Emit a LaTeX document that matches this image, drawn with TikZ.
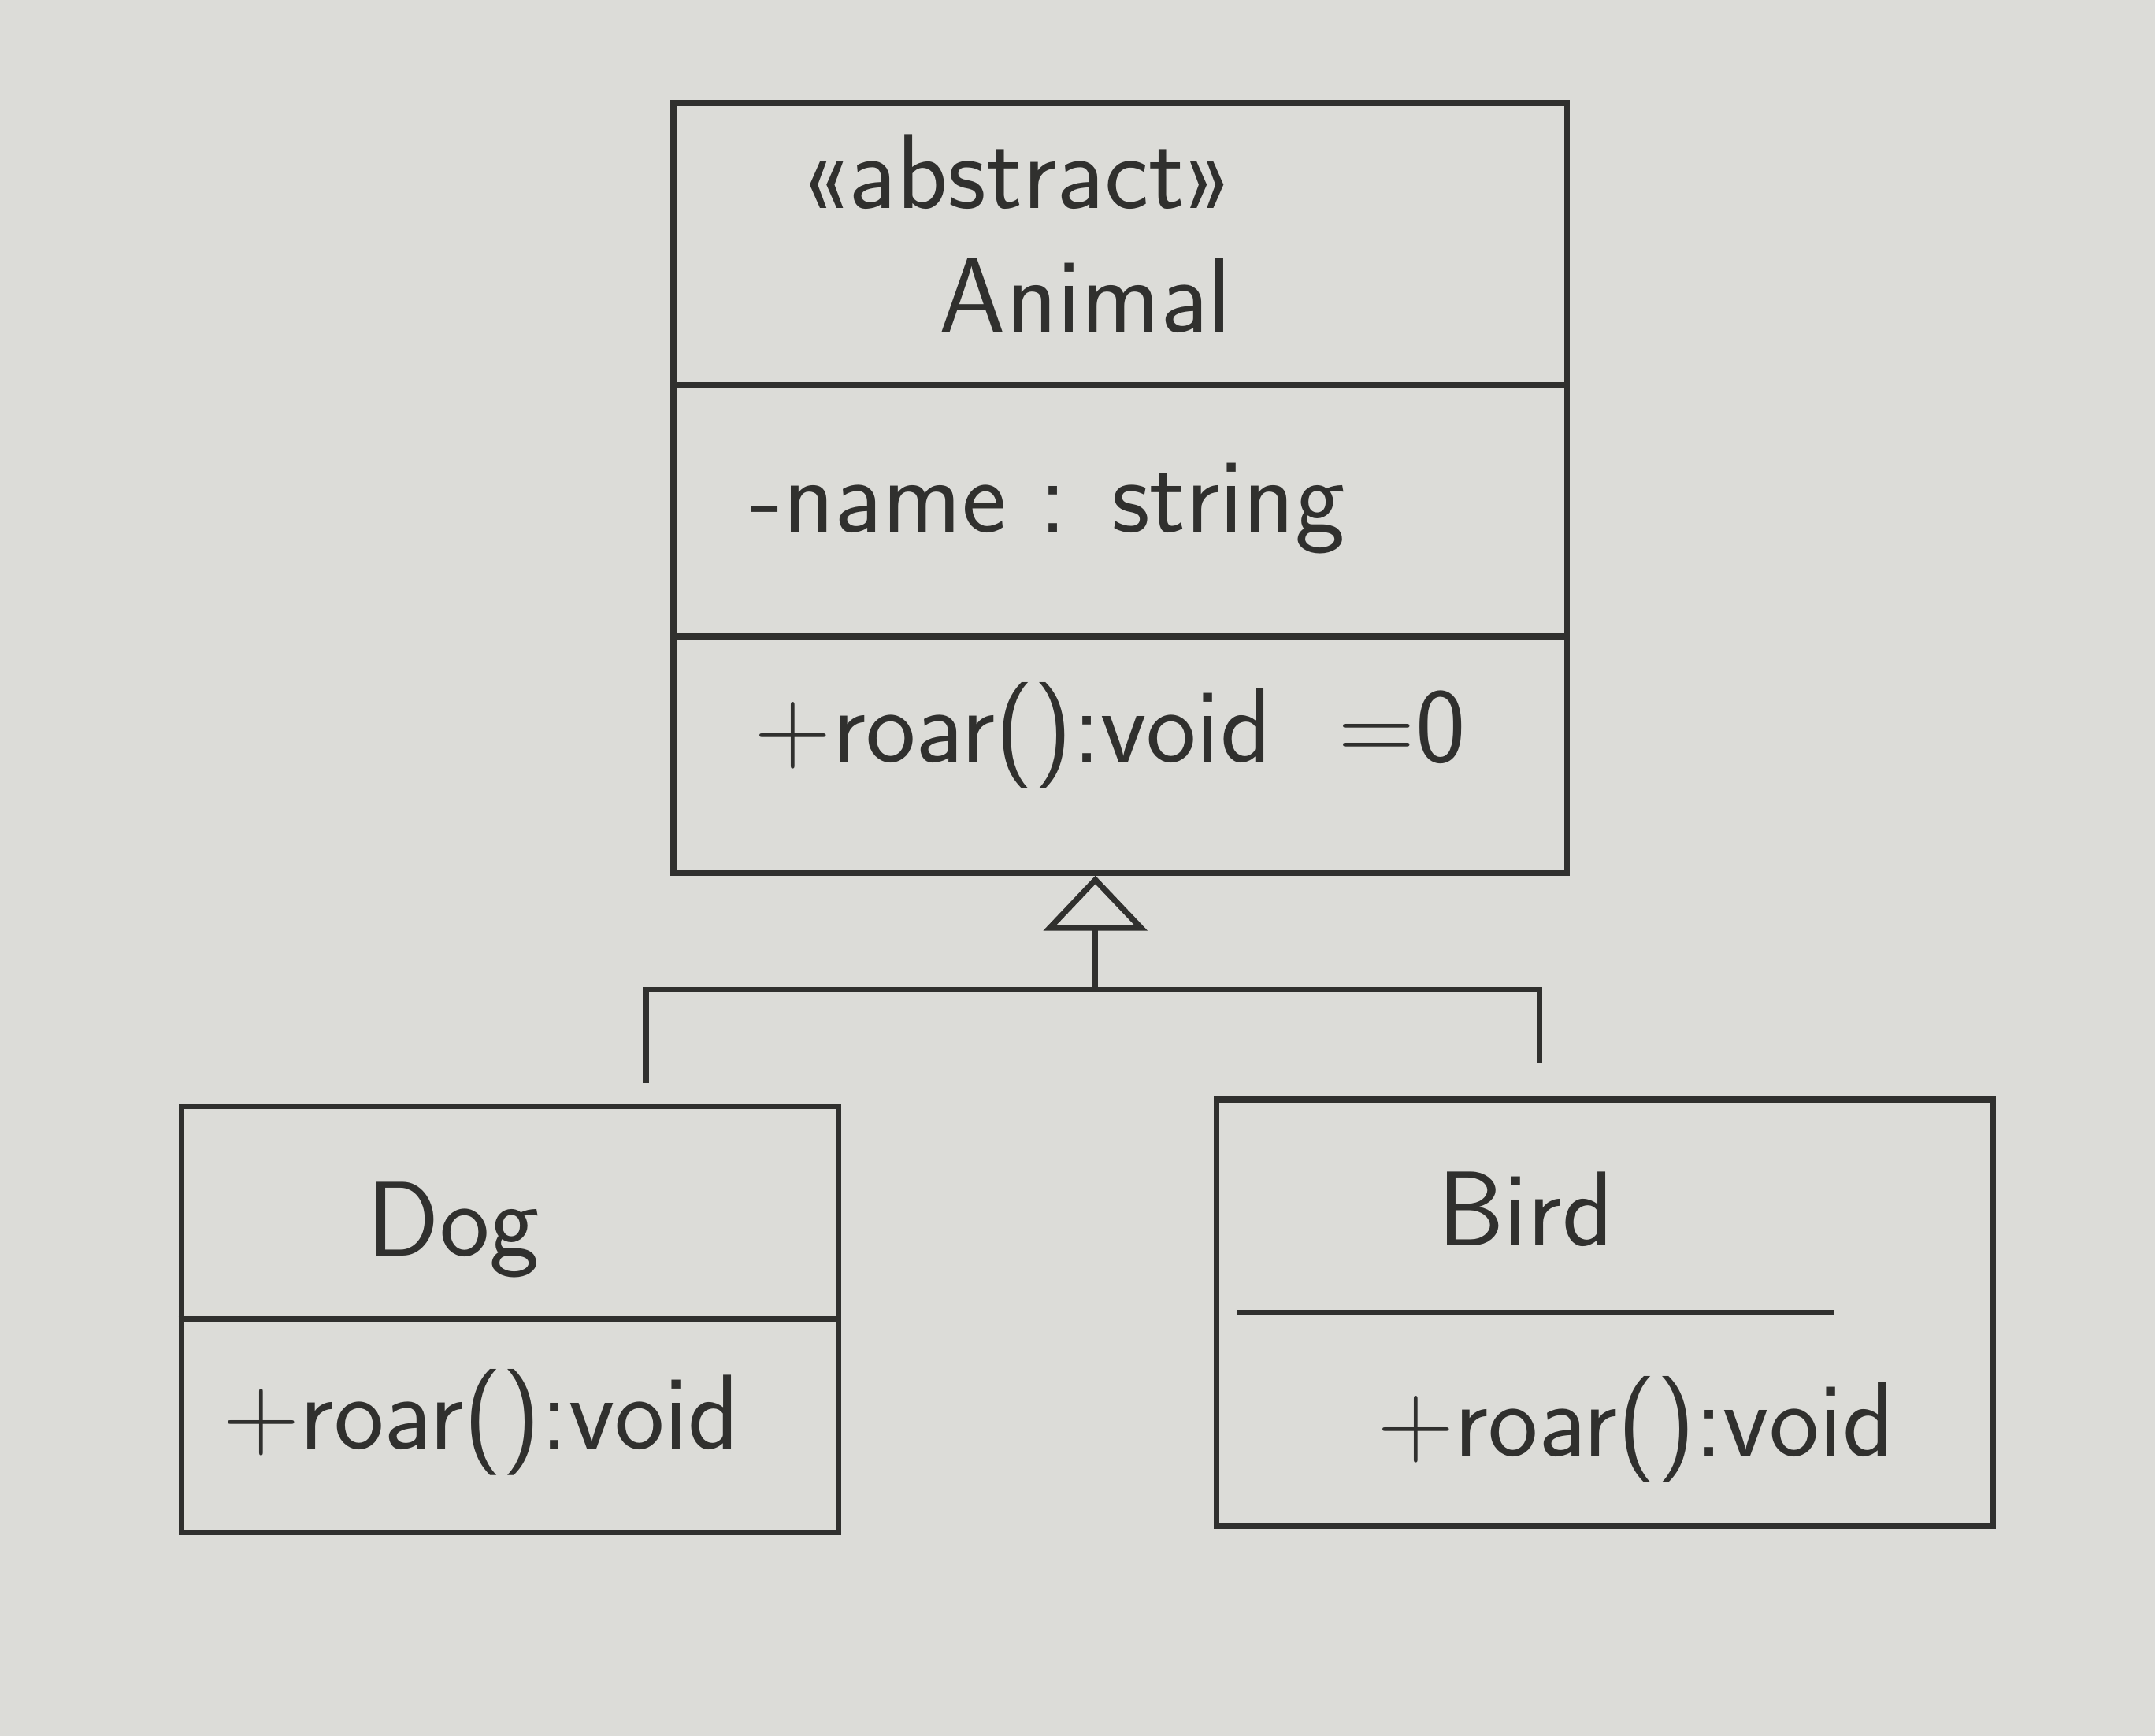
\documentclass[tikz,border=0pt]{standalone}
\usetikzlibrary{arrows.meta}
\definecolor{paper}{RGB}{220,220,216}
\definecolor{pen}{RGB}{48,48,46}
\tikzset{
  classbox/.style={draw=pen, line width=1.2pt, minimum width=#1, inner sep=0pt},
  label/.style={text=pen, font=\sffamily\fontsize{22}{26}\selectfont, inner sep=0pt},
  divider/.style={draw=pen, line width=1.2pt},
  inherit/.style={draw=pen, line width=1.2pt, -{Triangle[open, length=4mm, width=7.5mm]}}
}
\begin{document}
\begin{tikzpicture}
    \fill[paper] (0,0) rectangle (15.68,12.63);
    \useasboundingbox (0,0) rectangle (15.68,12.63);
    % class boxes
    \node[classbox=6.5cm, minimum height=5.6cm] (animal) at (8.15,9.08) {};
    \node[classbox=4.78cm, minimum height=3.1cm] (dog) at (3.71,3.03) {};
    \node[classbox=5.65cm, minimum height=3.1cm] (bird) at (11.675,3.08) {};
    % compartments
    \draw[divider] (animal.west |- 0,9.83) -- (animal.east |- 0,9.83);
    \draw[divider] (animal.west |- 0,8.0) -- (animal.east |- 0,8.0);
    \draw[divider] (dog.west |- 0,3.03) -- (dog.east |- 0,3.03);
    \draw[divider] (9.0,3.08) -- (13.35,3.08);
    % texts
    \node[label] (stereo) at (7.4,11.38) {«abstract»};
    \node[label] (animalname) at (7.9,10.48) {Animal};
    \node[label, anchor=west] (attr) at (5.45,8.93) {-name : string};
    \node[label, anchor=west] (animalop) at (5.48,7.28) {+roar():void \ =0};
    \node[label] (dogname) at (3.3,3.68) {Dog};
    \node[label] (dogop) at (3.5,2.28) {+roar():void};
    \node[label] (birdname) at (11.1,3.83) {Bird};
    \node[label] (birdop) at (11.9,2.23) {+roar():void};
    % generalization
    \coordinate (junc) at (7.97,5.43);
    \draw[divider, shorten <=0.15cm, shorten >=0.25cm] (dog.north -| 4.7,0) |- (junc) -| (bird.north -| 11.2,0);
    \draw[inherit] (junc) -- (junc |- animal.south);
\end{tikzpicture}
\end{document}
